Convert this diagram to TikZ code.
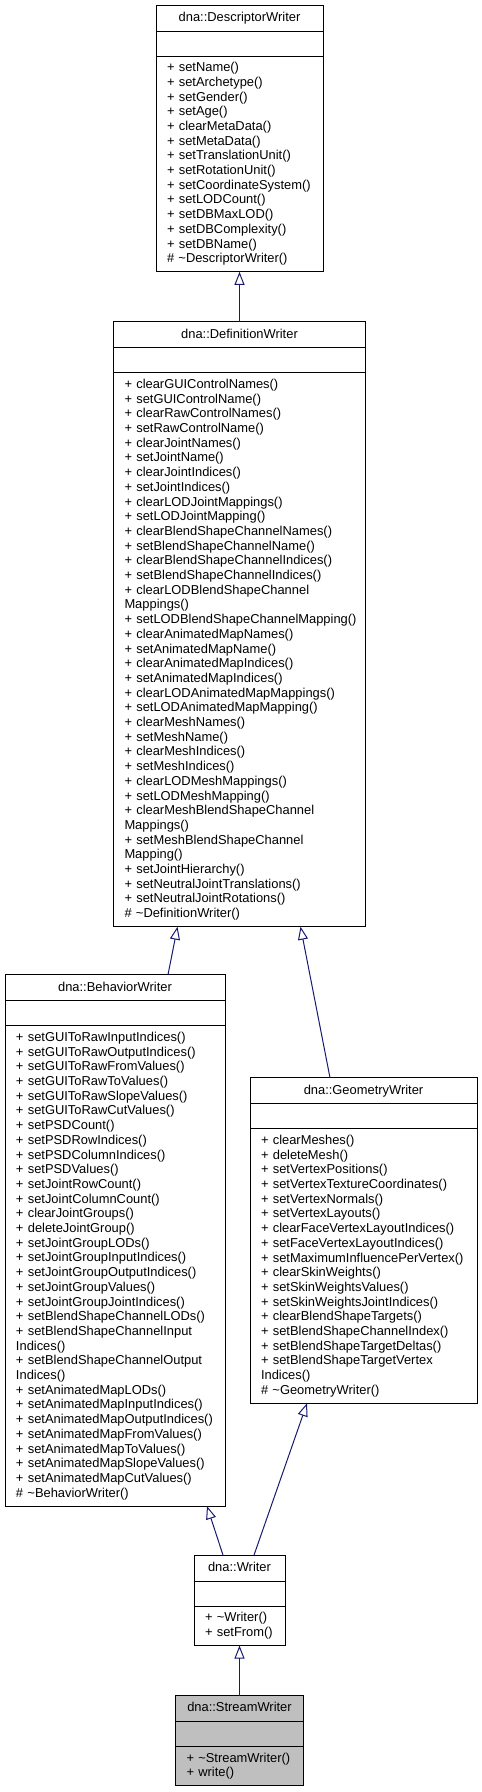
\documentclass[tikz,border=0pt]{standalone}
\usepackage{fontspec}
\setmainfont{Liberation Sans}
\usetikzlibrary{positioning, arrows.meta}
\definecolor{edgeblue}{RGB}{25,25,112}
\hyphenpenalty=10000
\exhyphenpenalty=10000

\begin{document}
\begin{tikzpicture}[
    x=1pt, y=-1pt,
    >={Triangle[open, length=13pt, width=10pt]},
    font=\fontsize{12.9pt}{14.7pt}\selectfont,
    every node/.style={line width=1pt, outer sep=0pt},
    clsname/.style={
        draw,
        fill=white,
        minimum width=#1,
        minimum height=26pt,
        inner sep=0pt,
        text height=9.4pt,
        text depth=2.7pt
    },
    clsattr/.style={
        draw,
        fill=white,
        minimum width=#1,
        minimum height=25pt,
        inner sep=0pt
    },
    clsops/.style={
        draw,
        fill=white,
        text width=#1,
        inner xsep=11pt,
        inner ysep=0pt,
        align=left
    },
    inherit/.style={->, color=edgeblue, line width=1pt}
]

\useasboundingbox (0,0) rectangle (482,1792);

% dna::DescriptorWriter
\node[clsname=167pt, anchor=north] (descw) at (239.5,5) {dna::DescriptorWriter};
\node[clsattr=167pt, below=0pt of descw] (descw-a) {};
\node[clsops=145pt, minimum height=215.8pt, below=0pt of descw-a] (descw-o) {%
+~setName()\\
+~setArchetype()\\
+~setGender()\\
+~setAge()\\
+~clearMetaData()\\
+~setMetaData()\\
+~setTranslationUnit()\\
+~setRotationUnit()\\
+~setCoordinateSystem()\\
+~setLODCount()\\
+~setDBMaxLOD()\\
+~setDBComplexity()\\
+~setDBName()\\
\#~\textasciitilde DescriptorWriter()};

% dna::DefinitionWriter
\node[clsname=252pt, below=50pt of descw-o] (defw) {dna::DefinitionWriter};
\node[clsattr=252pt, below=0pt of defw] (defw-a) {};
\node[clsops=230pt, minimum height=553.9pt, below=0pt of defw-a] (defw-o) {%
+~clearGUIControlNames()\\
+~setGUIControlName()\\
+~clearRawControlNames()\\
+~setRawControlName()\\
+~clearJointNames()\\
+~setJointName()\\
+~clearJointIndices()\\
+~setJointIndices()\\
+~clearLODJointMappings()\\
+~setLODJointMapping()\\
+~clearBlendShapeChannelNames()\\
+~setBlendShapeChannelName()\\
+~clearBlendShapeChannelIndices()\\
+~setBlendShapeChannelIndices()\\
+~clearLODBlendShapeChannel\\
Mappings()\\
+~setLODBlendShapeChannelMapping()\\
+~clearAnimatedMapNames()\\
+~setAnimatedMapName()\\
+~clearAnimatedMapIndices()\\
+~setAnimatedMapIndices()\\
+~clearLODAnimatedMapMappings()\\
+~setLODAnimatedMapMapping()\\
+~clearMeshNames()\\
+~setMeshName()\\
+~clearMeshIndices()\\
+~setMeshIndices()\\
+~clearLODMeshMappings()\\
+~setLODMeshMapping()\\
+~clearMeshBlendShapeChannel\\
Mappings()\\
+~setMeshBlendShapeChannel\\
Mapping()\\
+~setJointHierarchy()\\
+~setNeutralJointTranslations()\\
+~setNeutralJointRotations()\\
\#~\textasciitilde DefinitionWriter()};

% dna::BehaviorWriter
\node[clsname=220pt, below=48pt of defw-o, xshift=-124.5pt] (behw) {dna::BehaviorWriter};
\node[clsattr=220pt, below=0pt of behw] (behw-a) {};
\node[clsops=198pt, minimum height=480.4pt, below=0pt of behw-a] (behw-o) {%
+~setGUIToRawInputIndices()\\
+~setGUIToRawOutputIndices()\\
+~setGUIToRawFromValues()\\
+~setGUIToRawToValues()\\
+~setGUIToRawSlopeValues()\\
+~setGUIToRawCutValues()\\
+~setPSDCount()\\
+~setPSDRowIndices()\\
+~setPSDColumnIndices()\\
+~setPSDValues()\\
+~setJointRowCount()\\
+~setJointColumnCount()\\
+~clearJointGroups()\\
+~deleteJointGroup()\\
+~setJointGroupLODs()\\
+~setJointGroupInputIndices()\\
+~setJointGroupOutputIndices()\\
+~setJointGroupValues()\\
+~setJointGroupJointIndices()\\
+~setBlendShapeChannelLODs()\\
+~setBlendShapeChannelInput\\
Indices()\\
+~setBlendShapeChannelOutput\\
Indices()\\
+~setAnimatedMapLODs()\\
+~setAnimatedMapInputIndices()\\
+~setAnimatedMapOutputIndices()\\
+~setAnimatedMapFromValues()\\
+~setAnimatedMapToValues()\\
+~setAnimatedMapSlopeValues()\\
+~setAnimatedMapCutValues()\\
\#~\textasciitilde BehaviorWriter()};

% dna::GeometryWriter
\node[clsname=227pt, below=151pt of defw-o, xshift=124pt] (geow) {dna::GeometryWriter};
\node[clsattr=227pt, below=0pt of geow] (geow-a) {};
\node[clsops=205pt, minimum height=274.6pt, below=0pt of geow-a] (geow-o) {%
+~clearMeshes()\\
+~deleteMesh()\\
+~setVertexPositions()\\
+~setVertexTextureCoordinates()\\
+~setVertexNormals()\\
+~setVertexLayouts()\\
+~clearFaceVertexLayoutIndices()\\
+~setFaceVertexLayoutIndices()\\
+~setMaximumInfluencePerVertex()\\
+~clearSkinWeights()\\
+~setSkinWeightsValues()\\
+~setSkinWeightsJointIndices()\\
+~clearBlendShapeTargets()\\
+~setBlendShapeChannelIndex()\\
+~setBlendShapeTargetDeltas()\\
+~setBlendShapeTargetVertex\\
Indices()\\
\#~\textasciitilde GeometryWriter()};

% dna::Writer
\node[clsname=91pt, below=49pt of behw-o, xshift=124.5pt] (wrtw) {dna::Writer};
\node[clsattr=91pt, below=0pt of wrtw] (wrtw-a) {};
\node[clsops=69pt, minimum height=39.4pt, below=0pt of wrtw-a] (wrtw-o) {%
+~\textasciitilde Writer()\\
+~setFrom()};

% dna::StreamWriter
\node[clsname=128pt, fill=black!25, below=50pt of wrtw-o] (strw) {dna::StreamWriter};
\node[clsattr=128pt, fill=black!25, below=0pt of strw] (strw-a) {};
\node[clsops=106pt, fill=black!25, minimum height=39.4pt, below=0pt of strw-a] (strw-o) {%
+~\textasciitilde StreamWriter()\\
+~write()};

\path[inherit]
(defw.north) edge (descw-o.south)
([xshift=163pt]behw.north west) edge ([xshift=64pt]defw-o.south west)
([xshift=80pt]geow.north west) edge ([xshift=187pt]defw-o.south west)
([xshift=29pt]wrtw.north west) edge ([xshift=202pt]behw-o.south west)
([xshift=60pt]wrtw.north west) edge ([xshift=57pt]geow-o.south west)
(strw.north) edge (wrtw-o.south);

\end{tikzpicture}
\end{document}
